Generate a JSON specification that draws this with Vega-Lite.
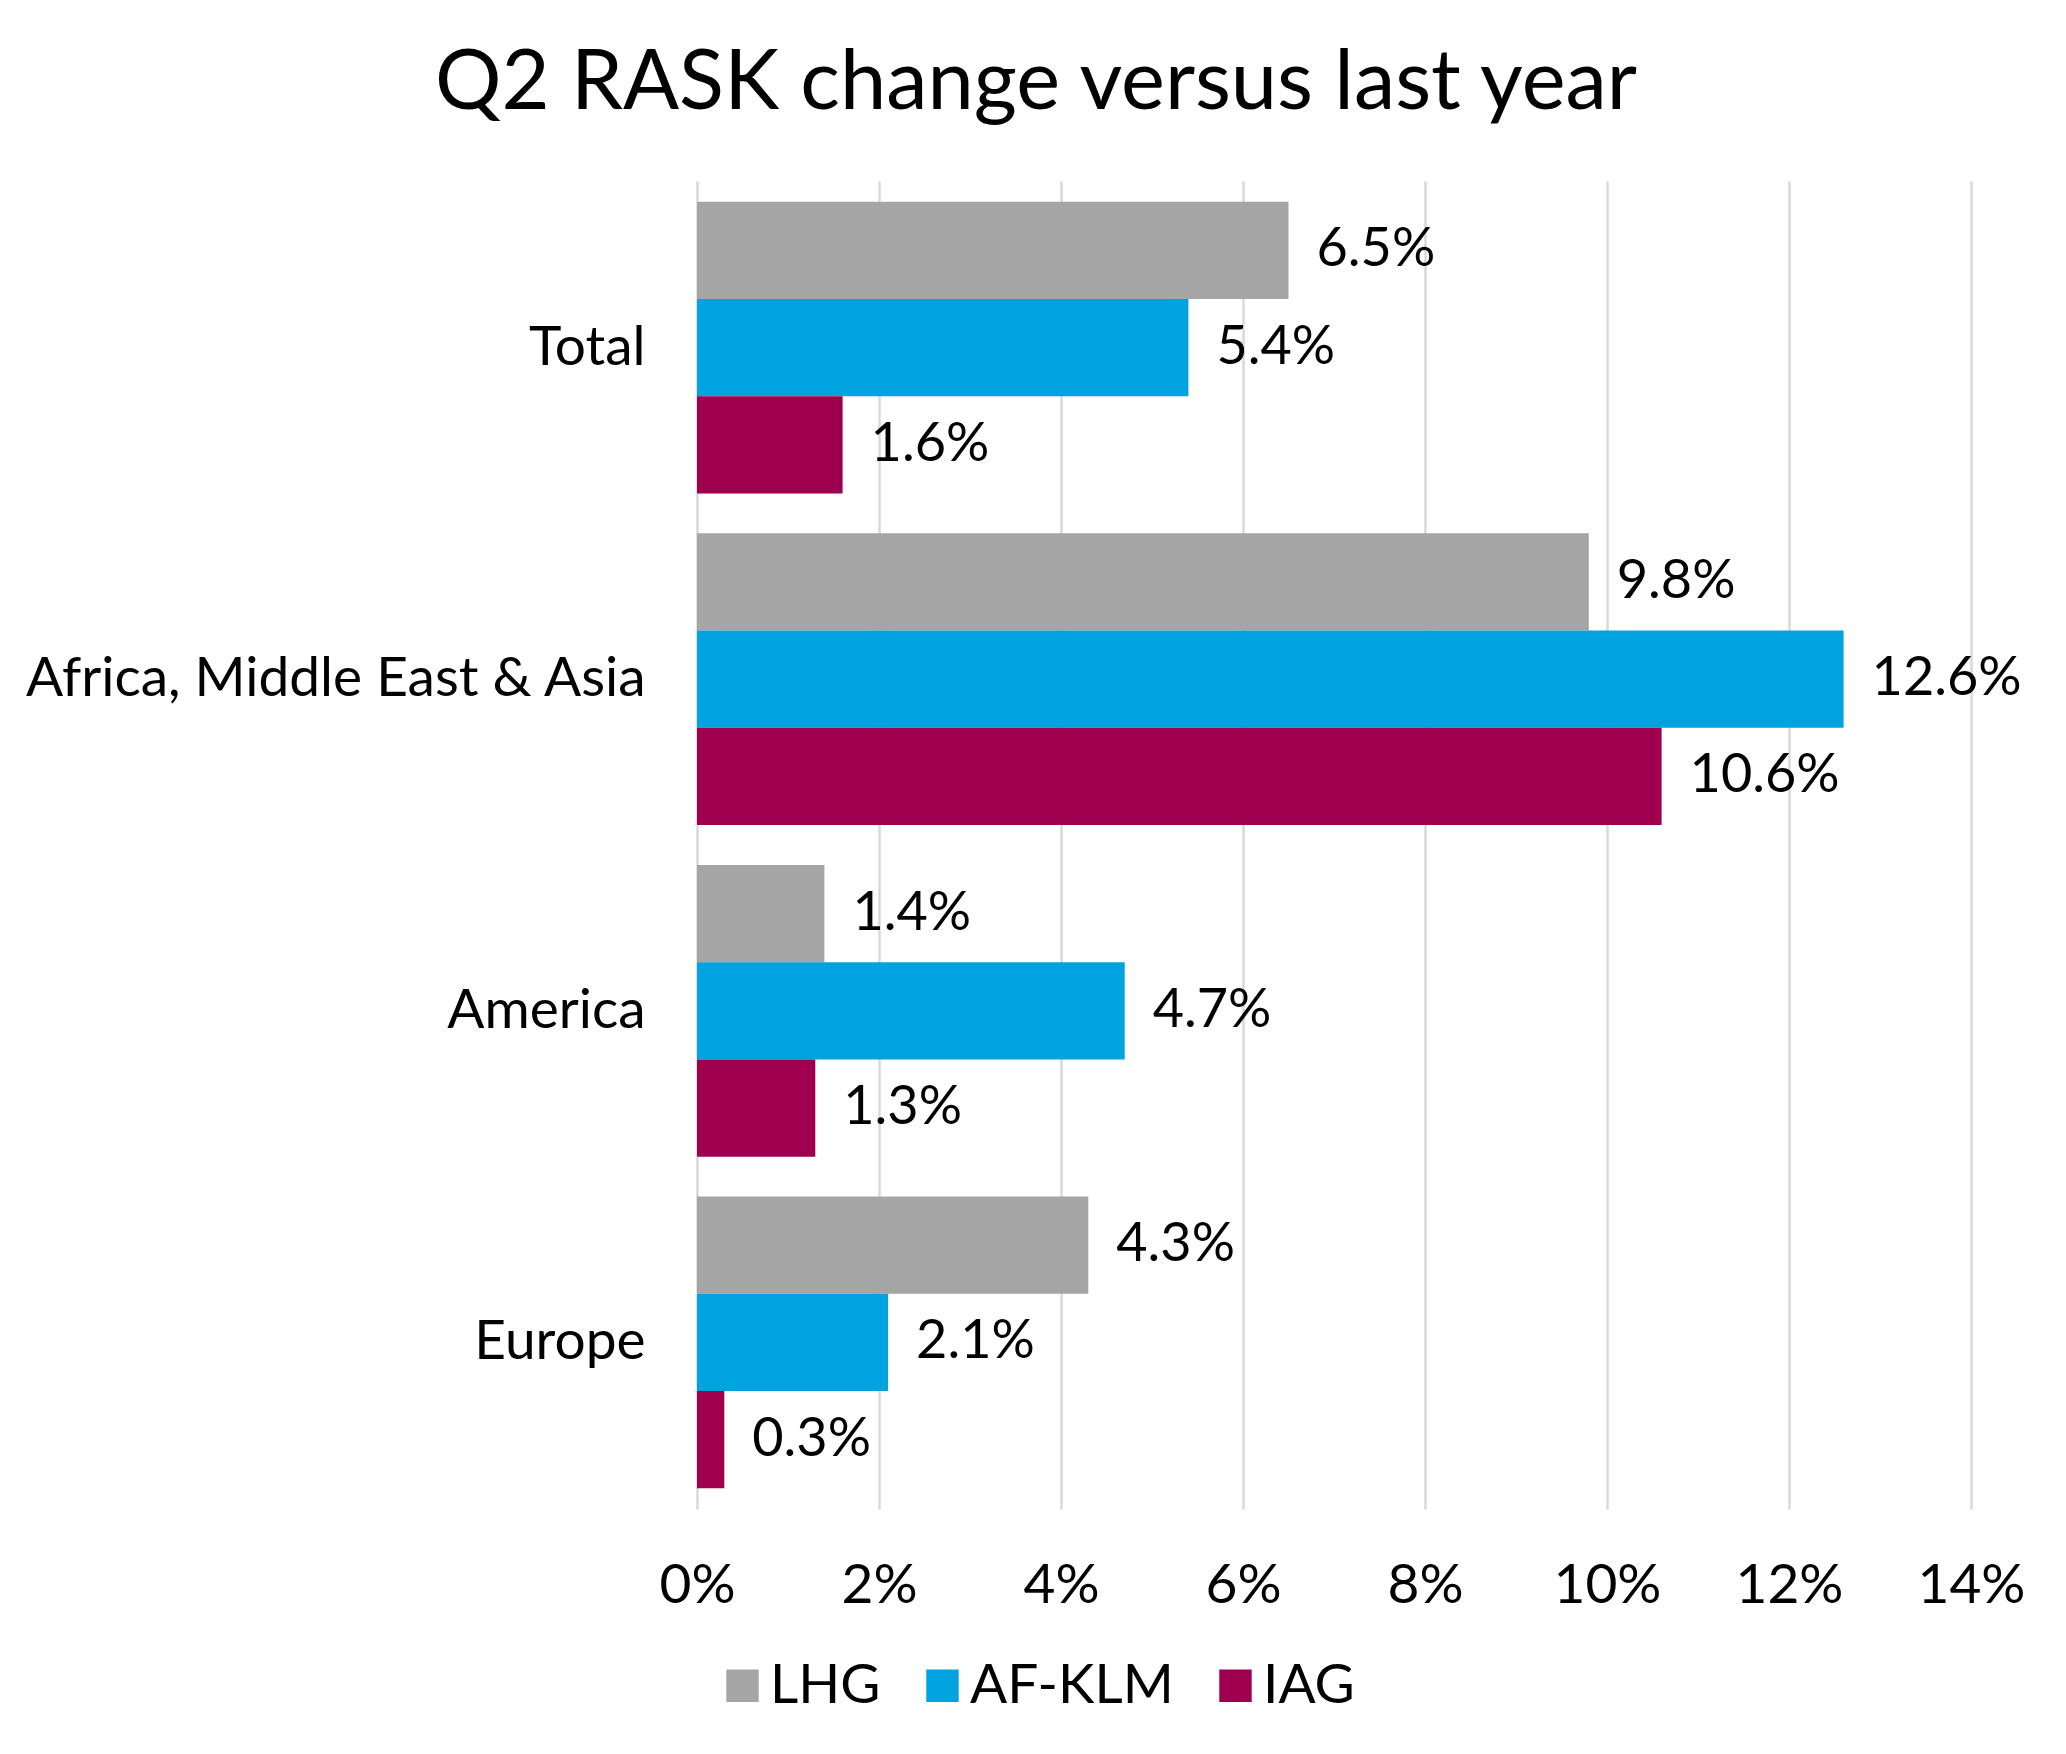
{
  "$schema": "https://vega.github.io/schema/vega-lite/v6.json",
  "width": 1274,
  "height": 1328,
  "autosize": "none",
  "padding": {"left": 697, "top": 181, "right": 95, "bottom": 245},
  "background": "white",
  "title": {
    "text": "Q2 RASK change versus last year",
    "font": "Lato",
    "fontSize": 83,
    "fontWeight": "normal",
    "color": "black",
    "anchor": "middle",
    "baseline": "alphabetic",
    "offset": -11,
    "dx": -298
  },
  "data": {
    "values": [
      {"region": "Total", "airline": "LHG", "change": 0.065},
      {"region": "Total", "airline": "AF-KLM", "change": 0.054},
      {"region": "Total", "airline": "IAG", "change": 0.016},
      {"region": "Africa, Middle East & Asia", "airline": "LHG", "change": 0.098},
      {"region": "Africa, Middle East & Asia", "airline": "AF-KLM", "change": 0.126},
      {"region": "Africa, Middle East & Asia", "airline": "IAG", "change": 0.106},
      {"region": "America", "airline": "LHG", "change": 0.014},
      {"region": "America", "airline": "AF-KLM", "change": 0.047},
      {"region": "America", "airline": "IAG", "change": 0.013},
      {"region": "Europe", "airline": "LHG", "change": 0.043},
      {"region": "Europe", "airline": "AF-KLM", "change": 0.021},
      {"region": "Europe", "airline": "IAG", "change": 0.003}
    ]
  },
  "encoding": {
    "y": {
      "field": "region",
      "type": "nominal",
      "sort": ["Total", "Africa, Middle East & Asia", "America", "Europe"],
      "scale": {"paddingInner": 0.12, "paddingOuter": 0.0625},
      "axis": {
        "title": null,
        "domain": false,
        "ticks": false,
        "labelPadding": 52,
        "labelFontSize": 55,
        "labelColor": "black",
        "labelFont": "Lato",
        "labelLimit": 1000
      }
    },
    "yOffset": {
      "field": "airline",
      "type": "nominal",
      "sort": ["LHG", "AF-KLM", "IAG"]
    },
    "x": {
      "field": "change",
      "type": "quantitative",
      "scale": {"domain": [0, 0.14], "nice": false},
      "axis": {
        "title": null,
        "format": ".0%",
        "values": [0, 0.02, 0.04, 0.06, 0.08, 0.1, 0.12, 0.14],
        "domain": false,
        "ticks": false,
        "grid": true,
        "gridColor": "#D9D9D9",
        "gridWidth": 2.5,
        "labelPadding": 50,
        "labelFontSize": 55,
        "labelColor": "black",
        "labelFont": "Lato",
        "labelFlush": false,
        "labelOverlap": false,
        "labelBound": false
      }
    }
  },
  "layer": [
    {
      "mark": {"type": "bar"},
      "encoding": {
        "color": {
          "field": "airline",
          "type": "nominal",
          "scale": {
            "domain": ["LHG", "AF-KLM", "IAG"],
            "range": ["#A5A5A5", "#00A2DF", "#9E004F"]
          },
          "legend": {
            "title": null,
            "orient": "none",
            "direction": "horizontal",
            "legendX": 18,
            "legendY": 1477,
            "symbolType": "square",
            "symbolSize": 1050,
            "symbolStrokeWidth": 0,
            "labelFontSize": 55,
            "labelFont": "Lato",
            "labelColor": "black",
            "labelOffset": 0,
            "labelLimit": 1000,
            "columnPadding": 34
          }
        }
      }
    },
    {
      "mark": {
        "type": "text",
        "align": "left",
        "baseline": "middle",
        "dx": 28,
        "font": "Lato",
        "fontSize": 54,
        "color": "black"
      },
      "encoding": {
        "text": {"field": "change", "type": "quantitative", "format": ".1%"}
      }
    }
  ],
  "config": {
    "view": {"stroke": null},
    "font": "Lato"
  }
}
